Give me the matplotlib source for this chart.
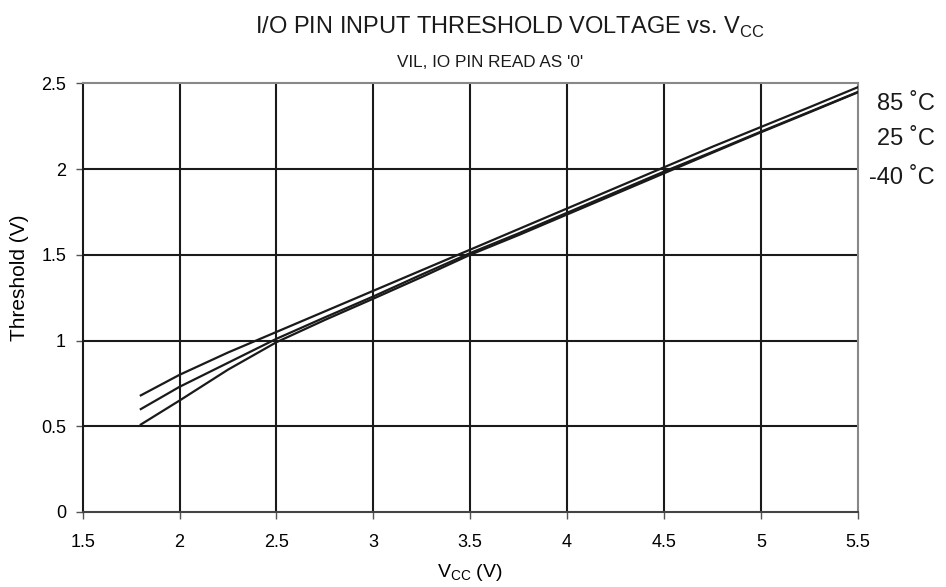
import numpy as np
import matplotlib
matplotlib.use("Agg")
import matplotlib.pyplot as plt

plt.rcParams['font.family'] = ['Liberation Sans', 'DejaVu Sans']
plt.rcParams['mathtext.fontset'] = 'custom'
plt.rcParams['mathtext.rm'] = 'Liberation Sans'

# supply voltage points (V)
vcc = [1.8, 2.0, 2.25, 2.5, 2.75, 3.0, 3.25, 3.5, 3.75, 4.0, 4.25, 4.5, 4.75, 5.0, 5.25, 5.5]

# threshold readings (V), top to bottom curve
vil_top = [0.68, 0.80, 0.93, 1.05, 1.17, 1.29, 1.41, 1.53, 1.65, 1.77, 1.89, 2.01, 2.13, 2.245, 2.36, 2.477]
vil_mid = [0.60, 0.73, 0.87, 1.01, 1.135, 1.257, 1.385, 1.51, 1.625, 1.745, 1.865, 1.985, 2.10, 2.218, 2.333, 2.449]
vil_bot = [0.51, 0.65, 0.83, 0.99, 1.12, 1.244, 1.37, 1.50, 1.615, 1.735, 1.855, 1.975, 2.095, 2.214, 2.33, 2.447]

temp_labels = ["85 \u02daC", "25 \u02daC", "-40 \u02daC"]
label_y = [2.377, 2.175, 1.945]

x_ticks = [1.5, 2, 2.5, 3, 3.5, 4, 4.5, 5, 5.5]
y_ticks = [0, 0.5, 1, 1.5, 2, 2.5]

fig = plt.figure(figsize=(9.46, 5.87), dpi=100)
ax = fig.add_axes([0.0874, 0.1278, 0.8193, 0.7303])

# grid
for xv in x_ticks[1:-1]:
    ax.axvline(xv, color='#1a1a1a', lw=1.5, zorder=1)
for yv in y_ticks[1:-1]:
    ax.axhline(yv, color='#1a1a1a', lw=1.5, zorder=1)

for ys in (vil_top, vil_mid, vil_bot):
    ax.plot(vcc, ys, color='#1a1a1a', lw=1.6, zorder=3)

ax.set_xlim(1.5, 5.5)
ax.set_ylim(0, 2.5)
ax.set_xticks(x_ticks)
ax.set_xticklabels([f"{t:g}" for t in x_ticks])
ax.set_yticks(y_ticks)
ax.set_yticklabels([f"{t:g}" for t in y_ticks])
ax.tick_params(labelsize=13, length=5, width=1, color='#555555')
ax.tick_params(axis='x', pad=11)
ax.tick_params(axis='y', pad=7)

ax.spines['left'].set_color('#1a1a1a')
ax.spines['bottom'].set_color('#444444')
ax.spines['top'].set_color('#888888')
ax.spines['right'].set_color('#888888')
for s in ax.spines.values():
    s.set_linewidth(1.5)

ax.set_xlabel(r"V$_{\mathregular{CC}}$ (V)", fontsize=14, va='center')
ax.xaxis.set_label_coords(0.5, -0.142)
ax.set_ylabel("Threshold (V)", fontsize=15, va='center')
ax.yaxis.set_label_coords(-0.081, 0.546)

for lab, yv in zip(temp_labels, label_y):
    ax.text(1.099, yv, lab, transform=ax.get_yaxis_transform(), ha='right',
            va='center', fontsize=17, color='#1a1a1a', clip_on=False)

fig.text(0.539, 0.954, r"I/O PIN INPUT THRESHOLD VOLTAGE vs. V$_{\mathregular{CC}}$",
         ha='center', va='center', fontsize=17, color='#1a1a1a')
fig.text(0.518, 0.894, "VIL, IO PIN READ AS '0'", ha='center', va='center',
         fontsize=12.3, color='#1a1a1a')

fig.savefig("out.png", dpi=100)
